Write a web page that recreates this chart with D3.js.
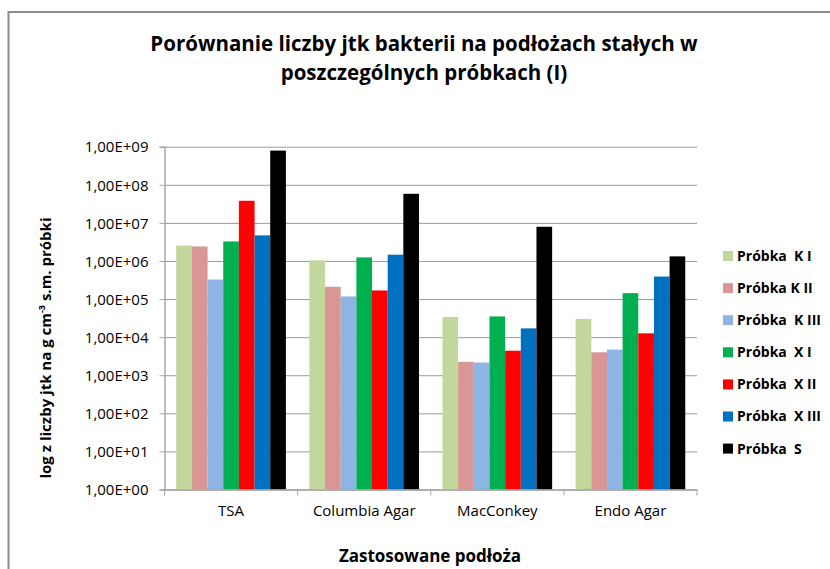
<!DOCTYPE html>
<html>
<head>
<meta charset="utf-8">
<script src="https://cdn.jsdelivr.net/npm/d3@7"></script>
<style>
  body { margin: 0; background: #fff; }
  text { font-family: "Open Sans", "Noto Sans", sans-serif; fill: #000; }
</style>
</head>
<body>
<div id="chart"></div>
<script>
// chart data
const categories = ["TSA", "Columbia Agar", "MacConkey", "Endo Agar"];
const seriesNames = ["Próbka  K I", "Próbka K II", "Próbka  K III", "Próbka  X I", "Próbka  X II", "Próbka  X III", "Próbka  S"];
const seriesColors = ["#c3d69b", "#d99694", "#8eb4e3", "#00b050", "#ff0000", "#0070c0", "#000000"];
const kI = [2.55e6, 1.04e6, 3.4e4, 3.0e4];
const kII = [2.4e6, 2.1e5, 2.25e3, 4.0e3];
const kIII = [3.25e5, 1.17e5, 2.15e3, 4.7e3];
const xI = [3.25e6, 1.24e6, 3.5e4, 1.43e5];
const xII = [3.8e7, 1.68e5, 4.4e3, 1.26e4];
const xIII = [4.7e6, 1.46e6, 1.7e4, 3.9e5];
const s = [7.9e8, 5.8e7, 7.9e6, 1.32e6];
const yTicks = [1e0, 1e1, 1e2, 1e3, 1e4, 1e5, 1e6, 1e7, 1e8, 1e9];
const yTickLabels = ["1,00E+00", "1,00E+01", "1,00E+02", "1,00E+03", "1,00E+04", "1,00E+05", "1,00E+06", "1,00E+07", "1,00E+08", "1,00E+09"];

const allSeries = [kI, kII, kIII, xI, xII, xIII, s];

const W = 830, H = 569;
const margin = { top: 146.7, right: 133, bottom: 79.5, left: 164.5 };
const width = W - margin.left - margin.right;
const height = H - margin.top - margin.bottom;

const svg = d3.select("#chart").append("svg")
  .attr("width", W).attr("height", H);

// outer chart border
svg.append("rect")
  .attr("x", 8.5).attr("y", 12)
  .attr("width", W).attr("height", H)
  .attr("fill", "none").attr("stroke", "#8c8c8c").attr("stroke-width", 2);

const g = svg.append("g").attr("transform", `translate(${margin.left},${margin.top})`);

// scales
const x0 = d3.scaleBand().domain(categories).range([0, width]).paddingInner(0).paddingOuter(0);
const x1 = d3.scaleBand().domain(d3.range(seriesNames.length))
  .range([x0.bandwidth() * 0.0882, x0.bandwidth() * 0.9118]);
const y = d3.scaleLog().domain([1, 1e9]).range([height, 0]);

// gridlines
g.append("g")
  .call(d3.axisLeft(y).tickValues(yTicks).tickSize(-width).tickFormat(""))
  .call(a => a.select(".domain").remove())
  .selectAll(".tick line").attr("stroke", "#9a9a9a").attr("stroke-width", 1);

// y axis
const yAxis = g.append("g")
  .call(d3.axisLeft(y).tickValues(yTicks).tickSize(5).tickPadding(11)
    .tickFormat((d, i) => yTickLabels[i]));
yAxis.select(".domain").attr("stroke", "#a6a6a6").attr("stroke-width", 1.5);
yAxis.selectAll(".tick line").attr("stroke", "#a6a6a6");
yAxis.selectAll("text").attr("font-size", "15px").attr("dy", "0.35em");

// bars
categories.forEach((c, ci) => {
  allSeries.forEach((vals, si) => {
    g.append("rect")
      .attr("x", x0(c) + x1(si))
      .attr("y", y(vals[ci]))
      .attr("width", x1.bandwidth())
      .attr("height", height - y(vals[ci]))
      .attr("fill", seriesColors[si]);
  });
});

// x axis
const xAxis = g.append("g").attr("transform", `translate(0,${height})`)
  .call(d3.axisBottom(x0).tickSize(0).tickPadding(16));
xAxis.select(".domain").attr("stroke", "#a6a6a6").attr("stroke-width", 1.5);
xAxis.selectAll("text").attr("font-size", "15px");
// category separators
g.append("g").selectAll("line")
  .data(d3.range(categories.length + 1))
  .join("line")
  .attr("x1", i => i * x0.step()).attr("x2", i => i * x0.step())
  .attr("y1", height).attr("y2", height + 6)
  .attr("stroke", "#a6a6a6");

// title
const title = svg.append("text")
  .attr("text-anchor", "middle")
  .attr("font-size", "20.5px").attr("font-weight", "bold");
title.append("tspan").attr("x", 424).attr("y", 51).text("Porównanie liczby jtk bakterii na podłożach stałych w");
title.append("tspan").attr("x", 424).attr("y", 80).text("poszczególnych próbkach (I)");

// axis titles
svg.append("text")
  .attr("x", 430).attr("y", 562)
  .attr("text-anchor", "middle")
  .attr("font-size", "17px").attr("font-weight", "bold")
  .text("Zastosowane podłoża");

const yt = svg.append("text")
  .attr("transform", "translate(51,348) rotate(-90)")
  .attr("text-anchor", "middle")
  .attr("font-size", "15px").attr("font-weight", "bold");
yt.append("tspan").text("log z liczby jtk na g cm");
yt.append("tspan").attr("font-size", "9px").attr("dy", "-6").text("-3");
yt.append("tspan").attr("dy", "6").text(" s.m. próbki");

// legend
const legend = svg.append("g").attr("transform", "translate(723,256)");
seriesNames.forEach((name, i) => {
  const row = legend.append("g").attr("transform", `translate(0,${i * 32.1})`);
  row.append("rect").attr("x", 0).attr("y", -5).attr("width", 10).attr("height", 10)
    .attr("fill", seriesColors[i]);
  row.append("text").attr("x", 14).attr("y", 0).attr("dy", "0.35em")
    .attr("font-size", "14px").attr("font-weight", "bold")
    .style("white-space", "pre").attr("xml:space", "preserve")
    .text(name);
});
</script>
</body>
</html>
